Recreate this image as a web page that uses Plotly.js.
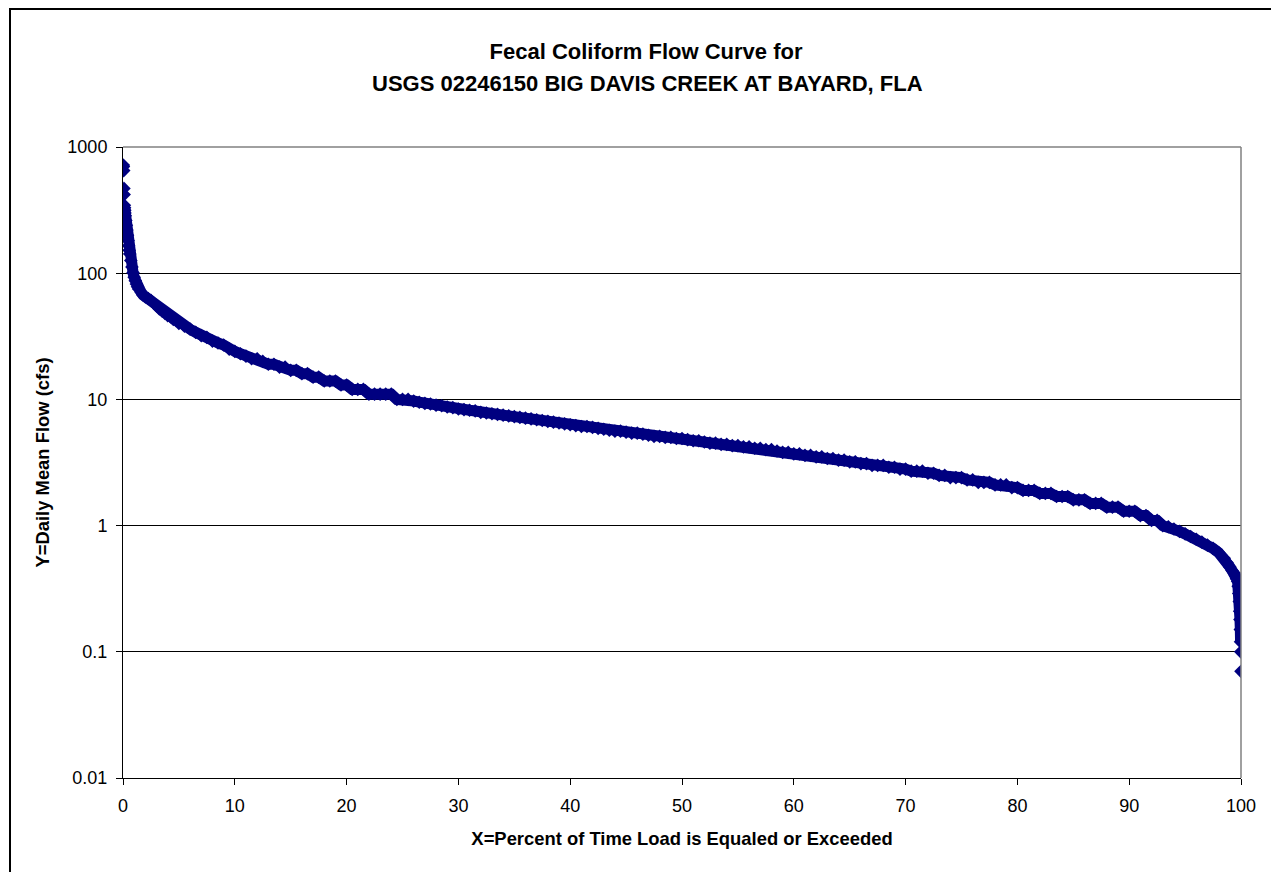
<!DOCTYPE html>
<html>
<head>
<meta charset="utf-8">
<script src="https://cdn.plot.ly/plotly-3.0.1.min.js"></script>
<style>
  html, body { margin: 0; padding: 0; background: #fff; overflow: hidden; }
  #chart { width: 1271px; height: 872px; position: relative; }
  #frame { position: absolute; left: 9px; top: 8px; width: 1400px; height: 1000px;
           border-left: 2px solid #000; border-top: 2px solid #000; pointer-events: none; }
</style>
</head>
<body>
<div id="chart"></div>
<div id="frame"></div>
<script>
// Percent of time the flow is equaled or exceeded
const pctHigh = [0.02, 0.04, 0.06, 0.08, 0.10, 0.12, 0.14, 0.16, 0.18, 0.20, 0.25, 0.30, 0.35, 0.40, 0.45, 0.50,
  0.55, 0.60, 0.70, 0.80, 0.90, 1.0, 1.1, 1.2, 1.3, 1.4, 1.6, 1.8, 2.0, 2.25, 2.5, 2.75, 3.0, 3.25, 3.5, 3.75,
  4.0, 4.25, 4.5, 4.75];
const flowHigh = [720, 700, 650, 470, 420, 345, 330, 315, 300, 285, 262, 240, 220, 200, 182, 165,
  152, 142, 126, 112, 101, 93, 87, 82, 78, 75, 71, 67, 65, 63, 61, 58, 55, 52, 50, 48,
  46, 45, 43, 42];

const pctMid = [5.0, 5.5, 6.0, 6.5, 7.0, 7.5, 8.0, 8.5, 9.0, 9.5, 10.0, 10.5, 11.0, 11.5, 12.0, 12.5,
  13.0, 13.5, 14.0, 14.5, 15.0, 15.5, 16.0, 16.5, 17.0, 17.5, 18.0, 18.5, 19.0, 19.5, 20.0, 20.5,
  21.0, 21.5, 22.0, 22.5, 23.0, 23.5, 24.0, 24.5, 25.0, 25.5, 26.0, 26.5, 27.0, 27.5, 28.0, 28.5,
  29.0, 29.5, 30.0, 30.5, 31.0, 31.5, 32.0, 32.5, 33.0, 33.5, 34.0, 34.5, 35.0, 35.5, 36.0, 36.5,
  37.0, 37.5, 38.0, 38.5, 39.0, 39.5, 40.0, 40.5, 41.0, 41.5, 42.0, 42.5, 43.0, 43.5, 44.0, 44.5,
  45.0, 45.5, 46.0, 46.5, 47.0, 47.5, 48.0, 48.5, 49.0, 49.5, 50.0];
const flowMid = [40, 38, 36, 34, 32, 31, 29, 28, 27, 25, 24, 23, 22, 21, 21, 20,
  19, 19, 18, 18, 17, 17, 16, 16, 15, 15, 14, 14, 14, 13, 13, 12,
  12, 12, 11, 11, 11, 11, 11, 10, 10, 10, 9.7, 9.5, 9.3, 9.2, 9.0, 8.9,
  8.7, 8.6, 8.4, 8.3, 8.2, 8.1, 7.9, 7.8, 7.7, 7.6, 7.5, 7.4, 7.3, 7.2, 7.1, 7.0,
  6.9, 6.8, 6.7, 6.6, 6.5, 6.4, 6.3, 6.2, 6.1, 6.1, 6.0, 5.9, 5.8, 5.7, 5.6, 5.6,
  5.5, 5.4, 5.4, 5.3, 5.2, 5.1, 5.1, 5.0, 5.0, 4.9, 4.9];

const pctLow = [50.5, 51.0, 51.5, 52.0, 52.5, 53.0, 53.5, 54.0, 54.5, 55.0, 55.5, 56.0, 56.5, 57.0, 57.5, 58.0,
  58.5, 59.0, 59.5, 60.0, 60.5, 61.0, 61.5, 62.0, 62.5, 63.0, 63.5, 64.0, 64.5, 65.0, 65.5, 66.0,
  66.5, 67.0, 67.5, 68.0, 68.5, 69.0, 69.5, 70.0, 70.5, 71.0, 71.5, 72.0, 72.5, 73.0, 73.5, 74.0,
  74.5, 75.0, 75.5, 76.0, 76.5, 77.0, 77.5, 78.0, 78.5, 79.0, 79.5, 80.0, 80.5, 81.0, 81.5, 82.0,
  82.5, 83.0, 83.5, 84.0, 84.5, 85.0, 85.5, 86.0, 86.5, 87.0, 87.5, 88.0, 88.5, 89.0, 89.5, 90.0,
  90.5, 91.0, 91.5, 92.0, 92.5, 93.0, 93.5, 94.0, 94.5, 95.0, 95.5, 96.0, 96.5, 97.0, 97.5, 98.0,
  98.25, 98.5, 98.75, 99.0, 99.2, 99.4, 99.5, 99.6, 99.7, 99.75, 99.8, 99.85, 99.88, 99.91, 99.94, 99.96,
  99.98, 100.0];
const flowLow = [4.8, 4.7, 4.7, 4.6, 4.5, 4.5, 4.4, 4.4, 4.3, 4.3, 4.2, 4.2, 4.1, 4.1, 4.0, 4.0,
  3.9, 3.8, 3.8, 3.7, 3.7, 3.6, 3.6, 3.5, 3.5, 3.4, 3.4, 3.3, 3.3, 3.2, 3.2, 3.1,
  3.1, 3.0, 3.0, 3.0, 2.9, 2.9, 2.8, 2.8, 2.7, 2.7, 2.7, 2.6, 2.6, 2.5, 2.5, 2.4,
  2.4, 2.4, 2.3, 2.3, 2.2, 2.2, 2.2, 2.1, 2.1, 2.1, 2.0, 2.0, 1.9, 1.9, 1.9, 1.8,
  1.8, 1.8, 1.7, 1.7, 1.7, 1.6, 1.6, 1.6, 1.5, 1.5, 1.5, 1.4, 1.4, 1.4, 1.3, 1.3,
  1.3, 1.2, 1.2, 1.1, 1.1, 1.0, 0.98, 0.94, 0.90, 0.86, 0.82, 0.78, 0.74, 0.70, 0.66, 0.61,
  0.58, 0.55, 0.51, 0.47, 0.44, 0.42, 0.40, 0.38, 0.36, 0.33, 0.29, 0.25, 0.21, 0.18, 0.15, 0.12,
  0.10, 0.07];

const yTickVals = [0.01, 0.1, 1, 10, 100, 1000];
const yTickText = ['0.01', '0.1', '1', '10', '100', '1000'];
const xTickVals = [0, 10, 20, 30, 40, 50, 60, 70, 80, 90, 100];

const titleLine1 = 'Fecal Coliform Flow Curve for';
const titleLine2 = 'USGS 02246150 BIG DAVIS CREEK AT BAYARD, FLA';

const pct = pctHigh.concat(pctMid, pctLow);
const flow = flowHigh.concat(flowMid, flowLow);

const navy = '#000080';
const FONT = 'Arial, "Liberation Sans", sans-serif';

// continuous band beneath the markers (same data, from the start of the continuous part)
const startIdx = pct.indexOf(0.12);
const traces = [
  {
    x: pct.slice(startIdx, pct.length - 2), y: flow.slice(startIdx, flow.length - 2),
    type: 'scatter', mode: 'lines', line: {color: navy, width: 11},
    hoverinfo: 'skip', showlegend: false
  },
  {
    x: pct, y: flow, type: 'scatter', mode: 'markers',
    marker: {symbol: 'diamond', size: 10.5, color: navy, line: {width: 0}},
    showlegend: false, name: 'Flow'
  }
];

const layout = {
  width: 1271, height: 872,
  margin: {l: 122.5, r: 29.5, t: 147, b: 93.5},
  paper_bgcolor: '#fff', plot_bgcolor: '#fff',
  font: {family: FONT, color: '#000', size: 18},
  showlegend: false,
  title: {
    text: '<b>' + titleLine1 + '</b>',
    font: {family: FONT, size: 22, color: '#000'},
    x: 646 / 1271, xanchor: 'center', xref: 'container',
    y: 1 - 51 / 872, yanchor: 'middle', yref: 'container'
  },
  annotations: [
    {text: '<b>' + titleLine2 + '</b>', showarrow: false,
     font: {family: FONT, size: 22, color: '#000'},
     xref: 'paper', yref: 'paper', x: (647.5 - 122.5) / 1119, y: (778.5 - 83) / 631.5,
     xanchor: 'center', yanchor: 'middle'}
  ],
  xaxis: {
    type: 'linear', range: [0, 100], tickvals: xTickVals, ticktext: xTickVals.map(String),
    showgrid: false, zeroline: false,
    showline: true, linecolor: '#000', linewidth: 1,
    ticks: 'outside', ticklen: 6, tickcolor: '#000', tickwidth: 1, ticklabelstandoff: 5,
    tickfont: {family: FONT, size: 18, color: '#000'},
    title: {text: '<b>X=Percent of Time Load is Equaled or Exceeded</b>',
            font: {family: FONT, size: 18.4, color: '#000'}, standoff: 17}
  },
  yaxis: {
    type: 'log', range: [-2, 3], tickvals: yTickVals, ticktext: yTickText,
    showgrid: true, gridcolor: '#000', gridwidth: 1, zeroline: false,
    showline: true, linecolor: '#000', linewidth: 1,
    ticks: 'outside', ticklen: 6, tickcolor: '#000', tickwidth: 1, ticklabelstandoff: 5,
    tickfont: {family: FONT, size: 18, color: '#000'},
    title: {text: '<b>Y=Daily Mean Flow (cfs)</b>',
            font: {family: FONT, size: 18.4, color: '#000'}, standoff: 12}
  },
  shapes: [
    {type: 'line', xref: 'paper', yref: 'paper', x0: 0, x1: 1, y0: 1, y1: 1,
     line: {color: '#808080', width: 1.5}, layer: 'above'},
    {type: 'line', xref: 'paper', yref: 'paper', x0: 1, x1: 1, y0: 0, y1: 1,
     line: {color: '#808080', width: 1.5}, layer: 'above'}
  ]
};

Plotly.newPlot('chart', traces, layout, {displayModeBar: false, staticPlot: true});
</script>
</body>
</html>
